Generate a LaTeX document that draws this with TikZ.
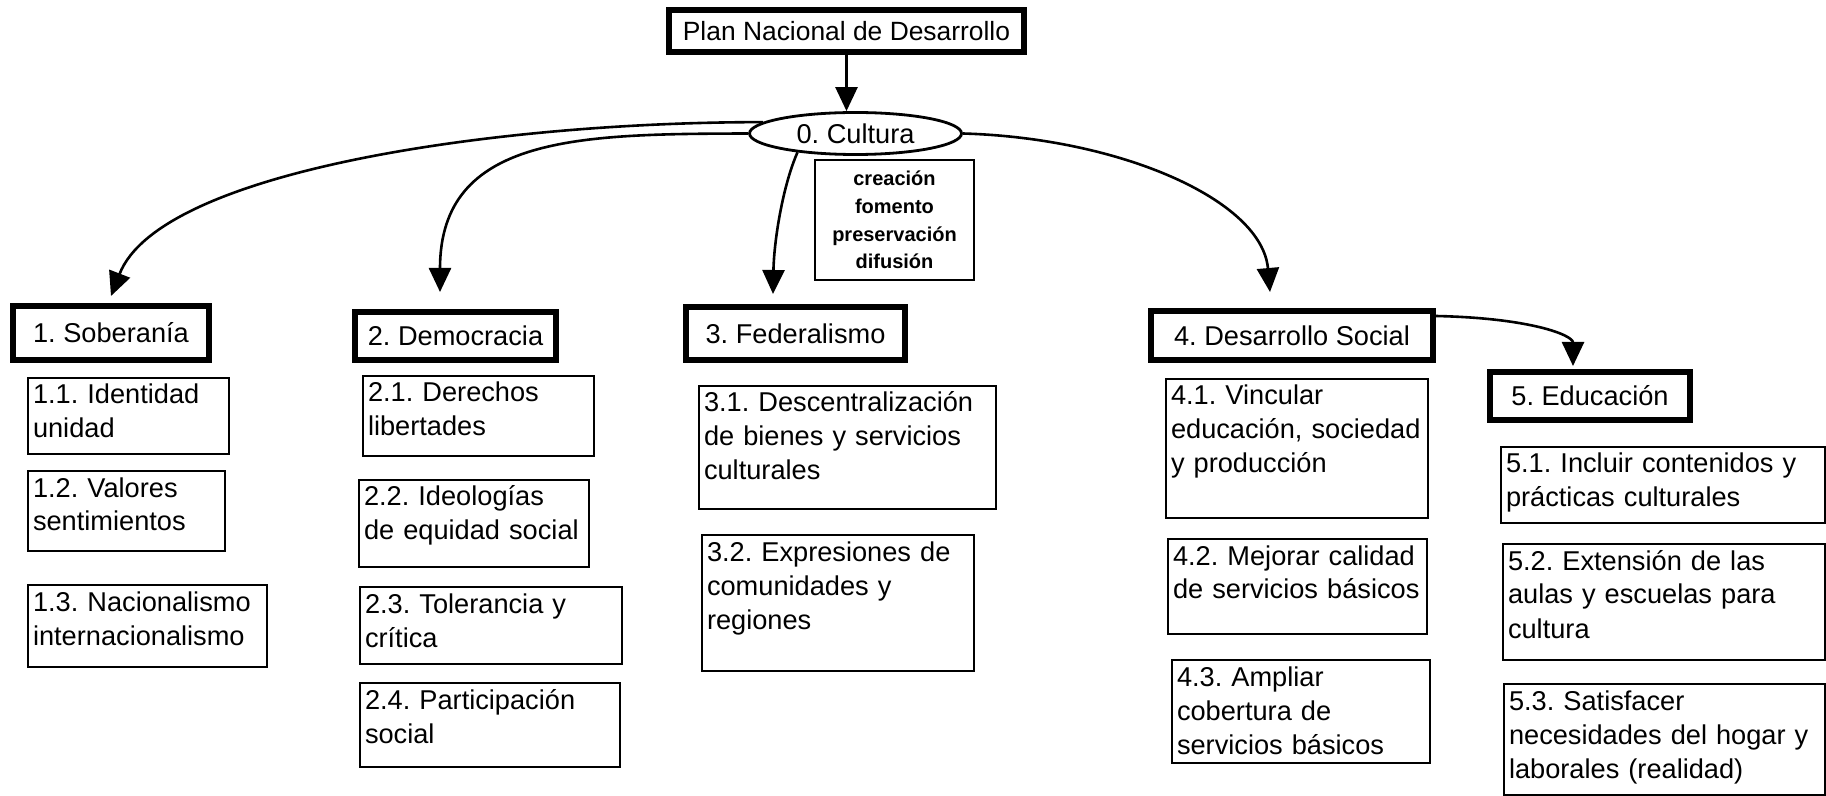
\documentclass[tikz,border=0pt]{standalone}
\usepackage{fontspec}
\setmainfont{Liberation Sans}
\usepackage{tikz}
\usetikzlibrary{arrows.meta,shapes.geometric}
\frenchspacing

\begin{document}
\begin{tikzpicture}[
  x=0.5pt, y=-0.5pt,
  mainbox/.style 2 args={
    draw, line width=3pt, inner sep=0pt,
    minimum width=#1, minimum height=#2,
    font=\fontsize{13.6pt}{17pt}\selectfont,
  },
  subbox/.style 2 args={
    draw, line width=1pt, anchor=north west, align=left,
    text width=#1, text height=13pt, text depth=#2,
    inner xsep=2.5pt, inner ysep=0pt,
    font=\fontsize{13.6pt}{17pt}\selectfont,
  },
  arr/.style={-{Triangle[length=12pt, width=11pt]}, line width=1.3pt},
]
\useasboundingbox (0,0) rectangle (1826,796);

% Top: plan and central ellipse
\node[mainbox={177.5pt}{21pt}, font=\fontsize{13.2pt}{16pt}\selectfont] (plan)
  at (846.5, 31) {Plan Nacional de Desarrollo};
\node[draw, ellipse, line width=1.4pt, inner sep=0pt,
  minimum width=106pt, minimum height=21pt,
  font=\fontsize{13.6pt}{17pt}\selectfont] (cultura)
  at (855.5, 133.5) {0. Cultura};
\node[draw, line width=1pt, minimum width=79.5pt, minimum height=60pt,
  align=center, font=\bfseries\fontsize{10pt}{13.8pt}\selectfont] (acciones)
  at (894.5, 220) {creación\\fomento\\preservación\\difusión};

% Main headings
\node[mainbox={98pt}{27pt}] (sob) at (111, 333) {1. Soberanía};
\node[mainbox={100.5pt}{24pt}] (dem) at (455.5, 336) {2. Democracia};
\node[mainbox={109.5pt}{26.5pt}] (fed) at (795.5, 333.5) {3. Federalismo};
\node[mainbox={141pt}{24.5pt}] (dev) at (1292, 335.5) {4. Desarrollo Social};
\node[mainbox={100pt}{24pt}] (edu) at (1590, 396) {5. Educación};

% Column 1
\node[subbox={95.5pt}{25pt}] (s11) at (27, 377) {1.1. Identidad\\unidad};
\node[subbox={93.5pt}{27pt}] (s12) at (27, 470) {1.2. Valores\\sentimientos};
\node[subbox={114.5pt}{28pt}] (s13) at (27, 584) {1.3. Nacionalismo\\internacionalismo};

% Column 2
\node[subbox={110.5pt}{27pt}] (s21) at (362, 375) {2.1. Derechos\\libertades};
\node[subbox={110pt}{30.5pt}] (s22) at (358, 479) {2.2. Ideologías\\de equidad social};
\node[subbox={126pt}{25.5pt}] (s23) at (359, 586) {2.3. Tolerancia y\\crítica};
\node[subbox={125pt}{29pt}] (s24) at (359, 682) {2.4. Participación\\social};

% Column 3
\node[subbox={143.5pt}{48.5pt}] (s31) at (698, 385)
  {3.1. Descentralización\\de bienes y servicios\\culturales};
\node[subbox={131pt}{55pt}] (s32) at (701, 534)
  {3.2. Expresiones de\\comunidades y\\regiones};

% Column 4
\node[subbox={126pt}{56.5pt}] (s41) at (1165, 378)
  {4.1. Vincular\\educación, sociedad\\y producción};
\node[subbox={124.5pt}{34.5pt}] (s42) at (1167, 538)
  {4.2. Mejorar calidad\\de servicios básicos};
\node[subbox={124pt}{38.5pt}] (s43) at (1171, 659)
  {4.3. Ampliar\\cobertura de\\servicios básicos};

% Column 5
\node[subbox={157pt}{25pt}] (s51) at (1500, 446)
  {5.1. Incluir contenidos y\\prácticas culturales};
\node[subbox={156pt}{45pt}] (s52) at (1502, 543)
  {5.2. Extensión de las\\aulas y escuelas para\\cultura};
\node[subbox={155.5pt}{42.5pt}] (s53) at (1503, 683)
  {5.3. Satisfacer\\necesidades del hogar y\\laborales (realidad)};

% Connectors
\draw[arr] (plan.south) -- (plan.south |- cultura.north);
\draw[arr] (cultura.173) .. controls (500,122) and (160,170) .. ([yshift=3.5pt]sob.north);
\draw[arr] (cultura.west) .. controls (580,134) and (440,135) .. ([xshift=-7.75pt, yshift=8.5pt]dem.north);
\draw[arr] (cultura.198) .. controls (783,185) and (774,240) .. ([xshift=-11.25pt, yshift=5pt]fed.north);
\draw[arr] (cultura.east) .. controls (1120,138) and (1262,200) .. ([xshift=-11pt, yshift=8pt]dev.north);
\draw[arr] ([yshift=9.75pt]dev.east) .. controls (1530,318) and (1573,335) .. ([xshift=-8.5pt, yshift=1.5pt]edu.north);

\end{tikzpicture}
\end{document}
